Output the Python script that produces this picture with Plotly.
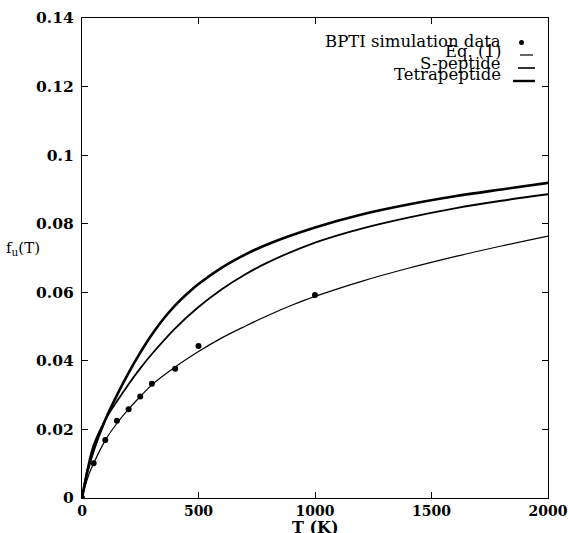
import plotly.graph_objects as go

# BPTI simulation data
bpti_T = [0, 50, 100, 150, 200, 250, 300, 400, 500, 1000]
bpti_f = [0, 0.0101, 0.0169, 0.0225, 0.0259, 0.0296, 0.0333, 0.0377, 0.0443, 0.0592]

# Eq. (1) curve
eq_T = [0, 25, 50, 100, 150, 200, 250, 300, 400, 500, 600, 700, 800, 900, 1000, 1200, 1400, 1600, 1800, 2000]
eq_f = [0, 0.0060, 0.0101, 0.0168, 0.0218, 0.0259, 0.0296, 0.0330, 0.0382, 0.0427, 0.0467, 0.0501, 0.0533, 0.0562, 0.0588, 0.0632, 0.0670, 0.0704, 0.0735, 0.0764]

# S-peptide curve
sp_T = [0, 25, 50, 100, 150, 200, 250, 300, 400, 500, 600, 700, 800, 1000, 1200, 1400, 1600, 1800, 2000]
sp_f = [0, 0.0090, 0.0155, 0.0228, 0.0282, 0.0332, 0.0378, 0.0420, 0.0495, 0.0557, 0.0609, 0.0652, 0.0688, 0.0745, 0.0786, 0.0818, 0.0845, 0.0867, 0.0886]

# Tetrapeptide curve
tp_T = [0, 25, 50, 100, 150, 200, 250, 300, 350, 400, 450, 500, 600, 700, 800, 1000, 1200, 1400, 1600, 1800, 2000]
tp_f = [0, 0.0082, 0.0140, 0.0228, 0.0300, 0.0365, 0.0424, 0.0477, 0.0523, 0.0562, 0.0595, 0.0624, 0.0672, 0.0710, 0.0741, 0.0789, 0.0827, 0.0856, 0.0880, 0.0900, 0.0919]

x_ticks = [0, 500, 1000, 1500, 2000]
y_ticks = [0, 0.02, 0.04, 0.06, 0.08, 0.1, 0.12, 0.14]
y_ticklabels = ["0", "0.02", "0.04", "0.06", "0.08", "0.1", "0.12", "0.14"]
legend_labels = ["BPTI simulation data", "Eq. (1)", "S-peptide", "Tetrapeptide"]

FONT = "DejaVu Serif"
W, H = 568, 533
L, R, T, B = 82, 20, 18, 35
PW, PH = W - L - R, H - T - B

def px2p(xp, yp):
    return (xp - L) / PW, 1 - (yp - T) / PH

fig = go.Figure()
fig.add_trace(go.Scatter(x=tp_T, y=tp_f, mode="lines", line=dict(color="black", width=2.6, shape="spline"), name=legend_labels[3]))
fig.add_trace(go.Scatter(x=sp_T, y=sp_f, mode="lines", line=dict(color="black", width=1.8, shape="spline"), name=legend_labels[2]))
fig.add_trace(go.Scatter(x=eq_T, y=eq_f, mode="lines", line=dict(color="black", width=1.2, shape="spline"), name=legend_labels[1]))
fig.add_trace(go.Scatter(x=bpti_T, y=bpti_f, mode="markers", marker=dict(color="black", size=6), name=legend_labels[0]))

axis_common = dict(
    showline=True, linecolor="black", linewidth=1.2, mirror="ticks",
    ticks="inside", ticklen=6, tickcolor="black", tickwidth=1,
    showgrid=False, zeroline=False, automargin=False,
)
fig.update_xaxes(range=[0, 2000], tickvals=x_ticks, ticklabeloverflow="allow",
                 tickfont=dict(family=FONT, size=14, color="black", weight="bold"), **axis_common)
fig.update_yaxes(range=[0, 0.14], tickvals=y_ticks, ticktext=y_ticklabels, ticklabelstandoff=4,
                 tickfont=dict(family=FONT, size=15.5, color="black", weight="bold"), **axis_common)

# custom legend (text left, sample right)
for txt, ypx in zip(legend_labels, [41, 52, 63, 74]):
    ax, ay = px2p(503, ypx)
    fig.add_annotation(text=txt, xref="paper", yref="paper", x=ax, y=ay,
                       xanchor="right", yanchor="middle", showarrow=False,
                       font=dict(family=FONT, size=16.5, color="black"))
cx, cy = px2p(521.5, 42.5)
fig.add_shape(type="circle", xref="paper", yref="paper", x0=cx - 2.5 / PW, x1=cx + 2.5 / PW,
              y0=cy - 2.5 / PH, y1=cy + 2.5 / PH, fillcolor="black", line=dict(color="black", width=0))
for (x0p, x1p, yp, w) in [(520, 533, 55, 1.2), (518, 535, 68, 1.6), (513, 535, 81, 2.4)]:
    a0, b = px2p(x0p, yp)
    a1, _ = px2p(x1p, yp)
    fig.add_shape(type="line", xref="paper", yref="paper", x0=a0, x1=a1, y0=b, y1=b,
                  line=dict(color="black", width=w))

# axis titles
tx, ty = px2p(315, 527)
fig.add_annotation(text="T (K)", xref="paper", yref="paper", x=tx, y=ty,
                   xanchor="center", yanchor="middle", showarrow=False,
                   font=dict(family=FONT, size=16, color="black", weight="bold"))
fx, fy = px2p(23, 248)
fig.add_annotation(text="f<sub>u</sub>(T)", xref="paper", yref="paper", x=fx, y=fy,
                   xanchor="center", yanchor="middle", showarrow=False,
                   font=dict(family=FONT, size=15, color="black"))

fig.update_layout(
    width=W, height=H,
    margin=dict(l=L, r=R, t=T, b=B),
    paper_bgcolor="white", plot_bgcolor="white",
    showlegend=False,
)
fig.write_html("out.html", config={"displayModeBar": False},
               post_script="document.body.style.margin='0px';")
